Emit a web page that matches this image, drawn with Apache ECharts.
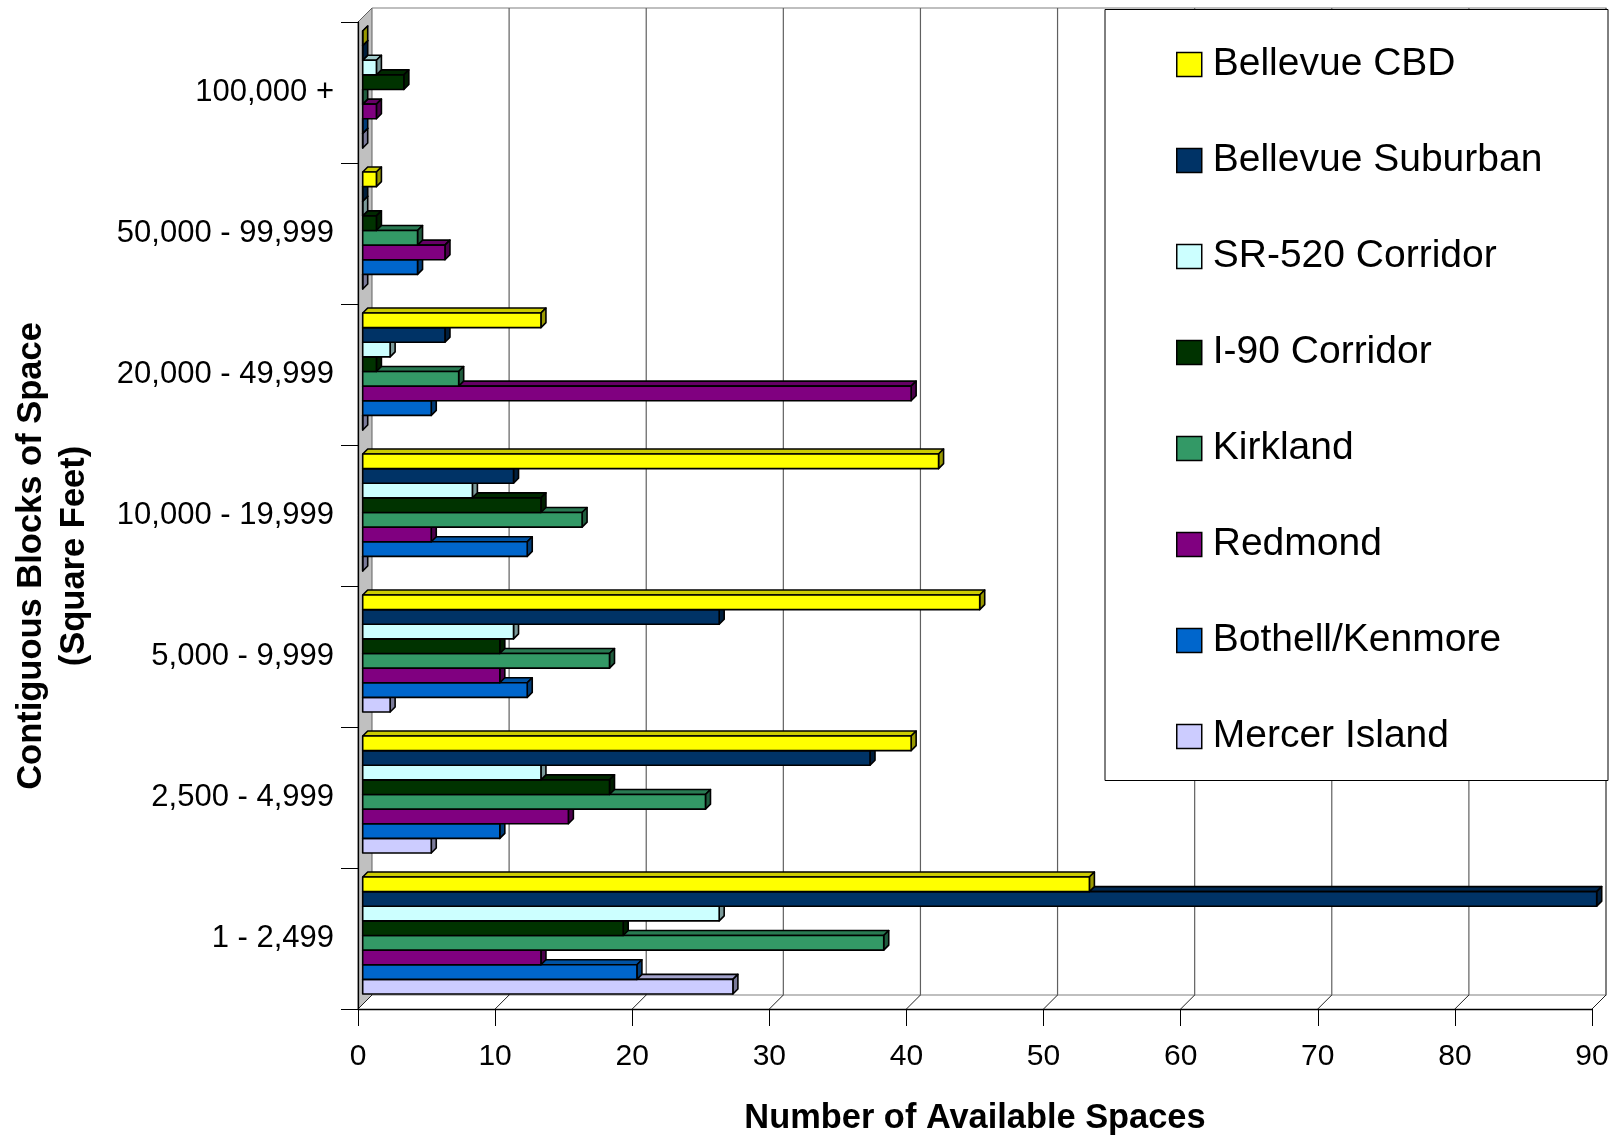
<!DOCTYPE html>
<html>
<head>
<meta charset="utf-8">
<script src="https://cdn.jsdelivr.net/npm/echarts@6/dist/echarts.min.js"></script>
<style>
  html, body { margin: 0; padding: 0; background: #ffffff; }
  #chart { width: 1615px; height: 1141px; }
</style>
</head>
<body>
<div id="chart"></div>
<script>
// Size bands of contiguous office space, top to bottom
const categories = ['100,000 +', '50,000 - 99,999', '20,000 - 49,999', '10,000 - 19,999',
                    '5,000 - 9,999', '2,500 - 4,999', '1 - 2,499'];

// Value axis ticks
const xTicks = [0, 10, 20, 30, 40, 50, 60, 70, 80, 90];

// Number of available spaces per submarket, one value per size band
const bellevueCBD       = [0, 1, 13, 42, 45, 40, 53];
const bellevueSuburban  = [0, 0, 6, 11, 26, 37, 90];
const sr520Corridor     = [1, 0, 2, 8, 11, 13, 26];
const i90Corridor       = [3, 1, 1, 13, 10, 18, 19];
const kirkland          = [0, 4, 7, 16, 18, 25, 38];
const redmond           = [1, 6, 40, 5, 10, 15, 13];
const bothellKenmore    = [0, 4, 5, 12, 12, 10, 20];
const mercerIsland      = [0, 0, 0, 0, 2, 5, 27];

const regions = ['Bellevue CBD', 'Bellevue Suburban', 'SR-520 Corridor', 'I-90 Corridor',
                 'Kirkland', 'Redmond', 'Bothell/Kenmore', 'Mercer Island'];
const regionValues = [bellevueCBD, bellevueSuburban, sr520Corridor, i90Corridor,
                      kirkland, redmond, bothellKenmore, mercerIsland];
const regionColors = ['#FFFF00', '#003366', '#CCFFFF', '#003300',
                      '#339966', '#800080', '#0066CC', '#CCCCFF'];

// Oblique 3-D look: offsets of the back wall, the bars' front plane and the bar depth
const WALL = { dx: 14, dy: -14 };
const BAR_PLANE = { dx: 4.7, dy: -3 };
const BAR_DEPTH = { dx: 5, dy: -5 };
const GROUP_FRAC = 0.83;
const FONT = '"Liberation Sans", Arial, sans-serif';

function shade(hex, f) {
  const n = parseInt(hex.slice(1), 16);
  const r = Math.round(((n >> 16) & 255) * f);
  const g = Math.round(((n >> 8) & 255) * f);
  const b = Math.round((n & 255) * f);
  return 'rgb(' + r + ',' + g + ',' + b + ')';
}

// Walls, floor and gridlines of the 3-D box
function renderFrame(params, api) {
  const band = api.size([0, 1])[1];
  const top = api.coord([0, 0])[1] - band / 2;
  const bottom = api.coord([0, categories.length - 1])[1] + band / 2;
  const x0 = api.coord([xTicks[0], 0])[0];
  const xEnd = api.coord([xTicks[xTicks.length - 1], 0])[0];
  const children = [];
  // left side wall
  children.push({
    type: 'polygon',
    shape: { points: [[x0, top], [x0 + WALL.dx, top + WALL.dy],
                      [x0 + WALL.dx, bottom + WALL.dy], [x0, bottom]] },
    style: { fill: '#C0C0C0', stroke: '#606060', lineWidth: 1 }
  });
  // back wall outline
  children.push({
    type: 'polyline',
    shape: { points: [[x0 + WALL.dx, top + WALL.dy], [xEnd + WALL.dx, top + WALL.dy],
                      [xEnd + WALL.dx, bottom + WALL.dy], [x0 + WALL.dx, bottom + WALL.dy]] },
    style: { fill: null, stroke: '#808080', lineWidth: 1.2 }
  });
  xTicks.forEach(function (t) {
    const x = api.coord([t, 0])[0];
    if (t !== xTicks[0]) {
      // back wall gridline
      children.push({
        type: 'line',
        shape: { x1: x + WALL.dx, y1: top + WALL.dy, x2: x + WALL.dx, y2: bottom + WALL.dy },
        style: { stroke: '#606060', lineWidth: 1.2 }
      });
    }
    // floor diagonal
    children.push({
      type: 'line',
      shape: { x1: x, y1: bottom, x2: x + WALL.dx, y2: bottom + WALL.dy },
      style: { stroke: '#202020', lineWidth: 1 }
    });
  });
  return { type: 'group', children: children, silent: true };
}

function makeBarRenderer(s) {
  return function (params, api) {
    const cat = api.value(1);
    const val = api.value(0);
    const band = api.size([0, 1])[1];
    const barH = band * GROUP_FRAC / regions.length;
    const center = api.coord([0, cat])[1];
    const x0 = api.coord([0, cat])[0] + BAR_PLANE.dx;
    const x1 = api.coord([val, cat])[0] + BAR_PLANE.dx;
    const yT = center - band * GROUP_FRAC / 2 + s * barH + BAR_PLANE.dy;
    const yB = yT + barH;
    const dx = BAR_DEPTH.dx, dy = BAR_DEPTH.dy;
    const base = regionColors[s];
    const edge = { stroke: '#000000', lineWidth: 1.6, lineJoin: 'round' };
    return {
      type: 'group',
      children: [
        { type: 'polygon',
          shape: { points: [[x0, yT], [x0 + dx, yT + dy], [x1 + dx, yT + dy], [x1, yT]] },
          style: Object.assign({ fill: shade(base, 0.8) }, edge) },
        { type: 'polygon',
          shape: { points: [[x1, yT], [x1 + dx, yT + dy], [x1 + dx, yB + dy], [x1, yB]] },
          style: Object.assign({ fill: shade(base, 0.6) }, edge) },
        { type: 'rect',
          shape: { x: x0, y: yT, width: x1 - x0, height: barH },
          style: Object.assign({ fill: base }, edge) }
      ]
    };
  };
}

const series = [{
  type: 'custom',
  name: 'frame',
  z: 1,
  silent: true,
  clip: false,
  renderItem: renderFrame,
  encode: { x: 0, y: 1 },
  data: [[0, 0]]
}];

regions.forEach(function (name, s) {
  series.push({
    type: 'custom',
    name: name,
    z: 10 + (regions.length - s),
    clip: false,
    itemStyle: { color: regionColors[s] },
    renderItem: makeBarRenderer(s),
    encode: { x: 0, y: 1 },
    data: regionValues[s].map(function (v, c) { return [v, c]; })
  });
});

const chart = echarts.init(document.getElementById('chart'), null, { renderer: 'canvas' });
chart.setOption({
  backgroundColor: '#ffffff',
  animation: false,
  grid: { left: 358, top: 22, width: 1234, height: 998, containLabel: false },
  xAxis: {
    type: 'value',
    min: xTicks[0],
    max: xTicks[xTicks.length - 1],
    interval: 10,
    z: 30,
    name: 'Number of Available Spaces',
    nameLocation: 'middle',
    nameGap: 93,
    nameTextStyle: { fontSize: 34.4, fontWeight: 'bold', color: '#000', fontFamily: FONT },
    axisLine: { show: true, lineStyle: { color: '#000', width: 1.3 } },
    axisTick: { show: true, length: 17, lineStyle: { color: '#000', width: 1 } },
    axisLabel: { fontSize: 30, color: '#000', margin: 33, fontFamily: FONT },
    splitLine: { show: false }
  },
  yAxis: {
    type: 'category',
    data: categories,
    inverse: true,
    z: 30,
    axisLine: { show: true, lineStyle: { color: '#000', width: 1.3 } },
    axisTick: { show: true, length: 17, lineStyle: { color: '#000', width: 1 } },
    axisLabel: { fontSize: 31, color: '#000', margin: 24, fontFamily: FONT },
    splitLine: { show: false }
  },
  legend: {
    orient: 'vertical',
    left: 1176,
    top: 45,
    z: 40,
    padding: 0,
    itemWidth: 25,
    itemHeight: 24,
    itemGap: 57,
    icon: 'rect',
    data: regions,
    itemStyle: { borderColor: '#000', borderWidth: 1.5 },
    textStyle: { fontSize: 39, lineHeight: 39, color: '#000', fontFamily: FONT, padding: [0, 0, 0, 6] }
  },
  graphic: [
    {
      type: 'rect',
      z: 35,
      shape: { x: 1105, y: 9.5, width: 503, height: 771 },
      style: { fill: '#ffffff', stroke: '#000000', lineWidth: 1 }
    },
    {
      type: 'text',
      z: 35,
      x: 52.5,
      y: 556,
      rotation: Math.PI / 2,
      style: {
        text: 'Contiguous Blocks of Space\n(Square Feet)',
        fontSize: 34.5,
        fontWeight: 'bold',
        fontFamily: FONT,
        fill: '#000',
        align: 'center',
        verticalAlign: 'middle',
        lineHeight: 43
      }
    }
  ],
  series: series
});
</script>
</body>
</html>
